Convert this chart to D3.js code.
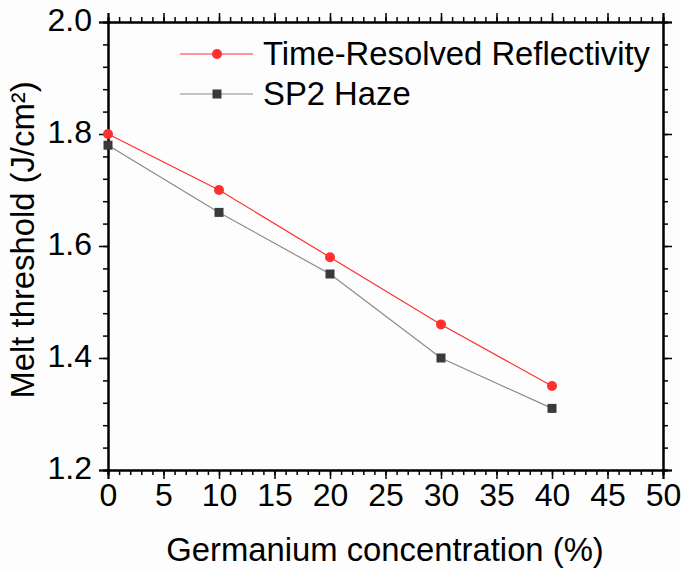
<!DOCTYPE html>
<html><head><meta charset="utf-8">
<script src="https://cdn.jsdelivr.net/npm/d3@7"></script>
<style>body{margin:0;background:#fff}svg{display:block}</style>
</head><body>
<svg id="c" width="681" height="570"></svg>
<script>
const concentration = [0, 10, 20, 30, 40];
const trrValues = [1.80, 1.70, 1.58, 1.46, 1.35];
const hazeValues = [1.78, 1.66, 1.55, 1.40, 1.31];
const seriesNames = ["Time-Resolved Reflectivity", "SP2 Haze"];
const xTicks = [0,5,10,15,20,25,30,35,40,45,50];
const yTicks = [1.2,1.4,1.6,1.8,2.0];

const svg = d3.select("#c");
const L=108, R=663, T=22, B=470;
const font = "Arial, 'Liberation Sans', sans-serif";
const x = d3.scaleLinear().domain([0,50]).range([L,R]);
const y = d3.scaleLinear().domain([1.2,2.0]).range([B,T]);

svg.append("rect").attr("width",681).attr("height",570).attr("fill","#fdfdfd");

function styleAxis(g){
  g.selectAll("path").attr("stroke","#000").attr("stroke-width",2);
  g.selectAll("line").attr("stroke","#000").attr("stroke-width",1.5);
}
const xMinor = d3.range(0,51,1);
const yMinor = d3.range(0,21).map(i=>+(1.2+i*0.04).toFixed(2));

// minor ticks
svg.append("g").attr("transform",`translate(0,${B})`).call(d3.axisBottom(x).tickValues(xMinor).tickSize(5).tickFormat("")).call(styleAxis);
svg.append("g").attr("transform",`translate(0,${T})`).call(d3.axisTop(x).tickValues(xMinor).tickSize(5).tickFormat("")).call(styleAxis);
svg.append("g").attr("transform",`translate(${L},0)`).call(d3.axisLeft(y).tickValues(yMinor).tickSize(5).tickFormat("")).call(styleAxis);
svg.append("g").attr("transform",`translate(${R},0)`).call(d3.axisRight(y).tickValues(yMinor).tickSize(5).tickFormat("")).call(styleAxis);

// major ticks
const gx = svg.append("g").attr("transform",`translate(0,${B})`).call(d3.axisBottom(x).tickValues(xTicks).tickSize(9).tickPadding(4).tickFormat(d3.format("d"))).call(styleAxis);
gx.selectAll("text").attr("font-family",font).attr("font-size",32).attr("fill","#000");
svg.append("g").attr("transform",`translate(0,${T})`).call(d3.axisTop(x).tickValues(xTicks).tickSize(9).tickFormat("")).call(styleAxis);
const gy = svg.append("g").attr("transform",`translate(${L},0)`).call(d3.axisLeft(y).tickValues(yTicks).tickSize(9).tickPadding(7).tickFormat(d3.format(".1f"))).call(styleAxis);
gy.selectAll("text").attr("font-family",font).attr("font-size",32).attr("fill","#000").attr("dy","0.28em");
svg.append("g").attr("transform",`translate(${R},0)`).call(d3.axisRight(y).tickValues(yTicks).tickSize(9).tickFormat("")).call(styleAxis);

// titles
svg.append("text").attr("x",385).attr("y",561).attr("text-anchor","middle")
  .attr("font-family",font).attr("font-size",32.8).text("Germanium concentration (%)");
svg.append("text").attr("transform",`translate(34,240) rotate(-90)`).attr("text-anchor","middle")
  .attr("font-family",font).attr("font-size",32.8).text("Melt threshold (J/cm²)");

// series
const line = d3.line().x((d,i)=>x(concentration[i])).y(d=>y(d));
svg.append("path").datum(hazeValues).attr("d",line).attr("fill","none").attr("stroke","#8a8a8a").attr("stroke-width",1.2);
svg.append("path").datum(trrValues).attr("d",line).attr("fill","none").attr("stroke","#ff3030").attr("stroke-width",1.2);
svg.selectAll("rect.h").data(hazeValues).enter().append("rect").attr("class","h")
  .attr("x",(d,i)=>x(concentration[i])-4.5).attr("y",d=>y(d)-4.5).attr("width",9).attr("height",9).attr("fill","#3a3a3a");
svg.selectAll("circle.t").data(trrValues).enter().append("circle").attr("class","t")
  .attr("cx",(d,i)=>x(concentration[i])).attr("cy",d=>y(d)).attr("r",5).attr("fill","#ff3030");

// legend
const lg = svg.append("g");
lg.append("line").attr("x1",180).attr("x2",253).attr("y1",54).attr("y2",54).attr("stroke","#ff3030").attr("stroke-width",1.2);
lg.append("circle").attr("cx",217).attr("cy",54).attr("r",5).attr("fill","#ff3030");
lg.append("line").attr("x1",180).attr("x2",253).attr("y1",94).attr("y2",94).attr("stroke","#8a8a8a").attr("stroke-width",1.2);
lg.append("rect").attr("x",212.5).attr("y",89.5).attr("width",9).attr("height",9).attr("fill","#3a3a3a");
lg.selectAll("text").data(seriesNames).enter().append("text").attr("x",263).attr("y",(d,i)=>65+i*40)
  .attr("font-family",font).attr("font-size",32.8).text(d=>d);
</script>
</body></html>
